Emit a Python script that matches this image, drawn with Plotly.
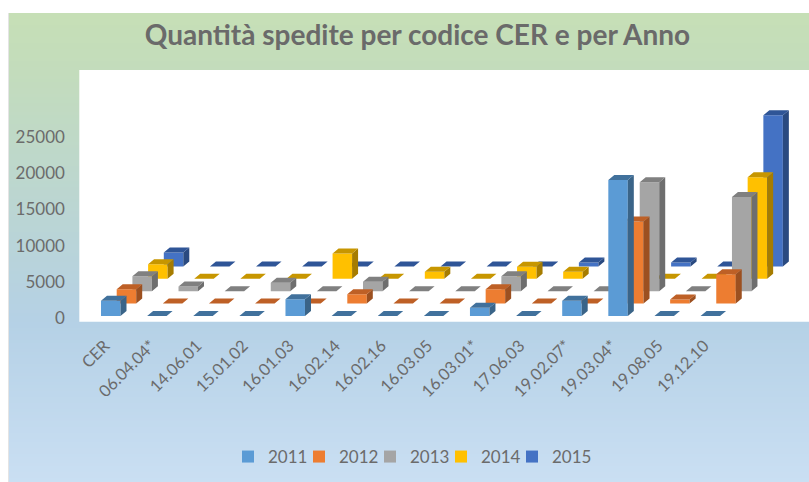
import plotly.graph_objects as go

categories = ["CER", "06.04.04*", "14.06.01", "15.01.02", "16.01.03", "16.02.14", "16.02.16",
              "16.03.05", "16.03.01*", "17.06.03", "19.02.07*", "19.03.04*", "19.08.05", "19.12.10"]
years = ["2011", "2012", "2013", "2014", "2015"]
v2011 = [2100, 0, 0, 0, 2300, 0, 0, 0, 1150, 0, 2100, 18800, 0, 0]
v2012 = [1980, 0, 0, 0, 0, 1290, 0, 0, 1980, 0, 0, 11350, 550, 4050]
v2013 = [2070, 650, 0, 1160, 0, 1300, 0, 0, 2070, 0, 0, 15050, 0, 13000]
v2014 = [2020, 0, 0, 0, 3500, 0, 970, 0, 1660, 970, 0, 0, 0, 14030]
v2015 = [1930, 0, 0, 0, 0, 0, 0, 0, 0, 550, 0, 550, 0, 20860]
series = [v2011, v2012, v2013, v2014, v2015]
front = ["#5B9BD5", "#ED7D31", "#A5A5A5", "#FFC000", "#4472C4"]
top_c = ["#41719C", "#BE6026", "#808080", "#C79600", "#2F5597"]
side_c = ["#3A6488", "#9C5020", "#6E6E6E", "#A67C00", "#2A4A80"]
yticks = [0, 5000, 10000, 15000, 20000, 25000]

W, H = 809, 482
PX_X, PX_Y = 46.12, 0.00724        # pixels per category / per unit of value
X0, Y0 = 110.75, 316               # pixel of category 0 / of value 0, front row
L, R, T, B = 79.3, 809, 70, 321.7  # white plot area
BAR = 19.5 / PX_X
STEP_X, STEP_Y = 15.7 / PX_X, 12.4 / PX_Y  # shift between rows
DEP_X, DEP_Y = 6 / PX_X, 5 / PX_Y          # depth of a bar
grey = "#6b6b6b"

fig = go.Figure()
for k in range(4, -1, -1):
    vals = series[k]
    cx = [j + k * STEP_X for j in range(len(vals))]
    base = k * STEP_Y
    fig.add_trace(go.Bar(x=cx, y=vals, base=base, width=BAR, name=years[k], marker=dict(color=front[k], line_width=0),
                         zorder=5 - k, legend="legend" if k == 0 else "legend%d" % (k + 1), hoverinfo="skip"))
    tx, ty, sx, sy = [], [], [], []
    for c, v in zip(cx, vals):
        a, b = c - BAR / 2, c + BAR / 2
        t = base + v
        tx += [a, a + DEP_X, b + DEP_X, b, a, None]
        ty += [t, t + DEP_Y, t + DEP_Y, t, t, None]
        if v > 0:
            sx += [b, b + DEP_X, b + DEP_X, b, b, None]
            sy += [base, base + DEP_Y, t + DEP_Y, t, base, None]
    for xs, ys, col in ((sx, sy, side_c[k]), (tx, ty, top_c[k])):
        fig.add_trace(go.Scatter(x=xs, y=ys, mode="lines", fill="toself", fillcolor=col, line=dict(width=0, color=col),
                                 showlegend=False, hoverinfo="skip", zorder=5 - k))

# chart background: vertical gradient, then the white plot area
stops = [(13, (198, 223, 182)), (70, (195, 220, 188)), (240, (185, 212, 216)), (322, (181, 209, 230)), (482, (202, 223, 243))]
def colour(y):
    for (y0, c0), (y1, c1) in zip(stops, stops[1:]):
        if y <= y1:
            f = (y - y0) / (y1 - y0)
            return "rgb(%d,%d,%d)" % tuple(round(p + (q - p) * f) for p, q in zip(c0, c1))
    return "rgb(202,223,243)"
shapes = [dict(type="rect", xref="paper", yref="paper", x0=8 / W, x1=9 / W, y0=0, y1=1 - 13 / H,
               fillcolor="#e4e4e4", line_width=0, layer="below")]
for y in range(13, 482, 3):
    shapes.append(dict(type="rect", xref="paper", yref="paper", x0=9 / W, x1=1, y0=1 - y / H, y1=1 - (y + 3) / H,
                       fillcolor=colour(y), line_width=0, layer="below"))
shapes.append(dict(type="rect", xref="paper", yref="paper", x0=L / W, x1=1, y0=1 - T / H, y1=1 - B / H,
                   fillcolor="white", line_width=0, layer="below"))

fig.update_layout(
    width=W, height=H, margin=dict(l=0, r=0, t=0, b=0, pad=0, autoexpand=False),
    paper_bgcolor="white", plot_bgcolor="rgba(0,0,0,0)", barmode="overlay", shapes=shapes,
    font=dict(family="Lato", color=grey, size=16),
    title=dict(text="<b>Quantità spedite per codice CER e per Anno</b>", x=417.5 / W, xanchor="center",
               y=1 - 35 / H, yanchor="middle", font=dict(family="Lato", size=28, color="#6a6a6a")),
    xaxis=dict(domain=[L / W, 1], range=[(L - X0) / PX_X, (R - X0) / PX_X], tickmode="array",
               tickvals=list(range(len(categories))), ticktext=categories, tickangle=-45, showgrid=False,
               zeroline=False, showline=False, ticks="outside", ticklen=7, tickcolor="rgba(0,0,0,0)",
               tickfont=dict(size=16.5, color=grey), ticklabelshift=-6),
    yaxis=dict(domain=[1 - B / H, 1 - T / H], range=[(Y0 - B) / PX_Y, (Y0 - T) / PX_Y], tickmode="array",
               tickvals=yticks, ticktext=[str(v) for v in yticks], showgrid=False, zeroline=False, showline=False,
               ticks="outside", ticklen=10, tickcolor="rgba(0,0,0,0)", tickfont=dict(size=17, color=grey), ticklabelshift=2),
)
# one single-entry legend per year, so the row keeps its spacing
for k in range(5):
    key = "legend" if k == 0 else "legend%d" % (k + 1)
    fig.update_layout({key: dict(orientation="h", x=(228 + 71 * k) / W, xanchor="left", y=1 - 457 / H, yanchor="middle",
                                 font=dict(size=17, color=grey), bgcolor="rgba(0,0,0,0)")})
fig.write_html("out.html", config={"displayModeBar": False}, post_script="document.body.style.margin='0';")
